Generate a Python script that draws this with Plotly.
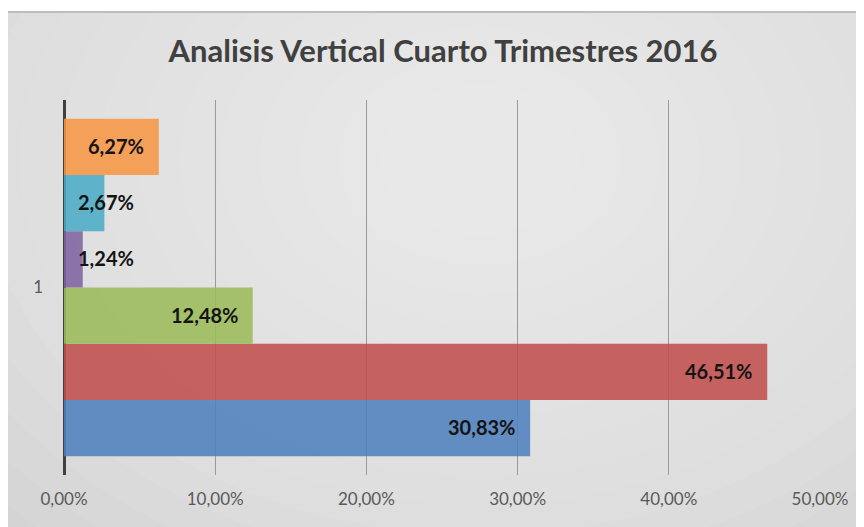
import plotly.graph_objects as go

categories = ["1"]
series_names = ["Serie 1", "Serie 2", "Serie 3", "Serie 4", "Serie 5", "Serie 6"]
series_values = [0.3083, 0.4651, 0.1248, 0.0124, 0.0267, 0.0627]
series_colors = ["#4F81BD", "#C0504D", "#9BBB59", "#8064A2", "#4BACC6", "#F79646"]
tick_values = [0, 0.1, 0.2, 0.3, 0.4, 0.5]

FONT = "Lato"
W, H = 864, 527
OFF = 8  # page body margin offset
# plot area in screen pixels
SX0, SX1, SY0, SY1 = 64, 820, 100, 475
L, R = SX0 - OFF, W - (SX1 - OFF)
T, B = SY0 - OFF, H - (SY1 - OFF)
PW, PH = W - L - R, H - T - B

fig = go.Figure()
for name, val, col in zip(series_names, series_values, series_colors):
    fig.add_trace(go.Bar(
        y=categories, x=[val], name=name, orientation="h",
        marker=dict(color=col, line=dict(width=0)), opacity=0.88,
        hoverinfo="skip",
    ))

# data labels (inside end, clamped near axis for short bars)
n = len(series_values)
for i, val in enumerate(series_values):
    label = f"{val*100:.2f}%".replace(".", ",")
    offset = (i - (n - 1) / 2) / n * 0.9
    if val >= 0.05:
        fig.add_annotation(x=val, y=offset, yref="y", xref="x", text=f"<b>{label}</b>",
                           xanchor="right", xshift=-13, yshift=1, showarrow=False,
                           font=dict(family=FONT, size=20, color="#141414"))
    else:
        fig.add_annotation(x=0, y=offset, yref="y", xref="x", text=f"<b>{label}</b>",
                           xanchor="left", xshift=12, yshift=1, showarrow=False,
                           font=dict(family=FONT, size=20, color="#141414"))

def px_x(p):  # screen px -> paper
    return (p - SX0) / PW

def px_y(p):
    return (SY1 - p) / PH

shapes = [dict(type="rect", xref="paper", yref="paper", x0=px_x(5), x1=px_x(880),
               y0=px_y(540), y1=px_y(11), fillcolor="#d4d4d4", line=dict(width=0), layer="below")]
# soft radial light in the middle
cx, cy = 480, 160
for r in range(660, 60, -40):
    shapes.append(dict(type="circle", xref="paper", yref="paper",
                       x0=px_x(cx - r), x1=px_x(cx + r),
                       y0=px_y(cy + r * 0.75), y1=px_y(cy - r * 0.75),
                       fillcolor="white", opacity=0.06, line=dict(width=0), layer="below"))
# white strips outside the chart area (cover circle overflow)
shapes.append(dict(type="rect", xref="paper", yref="paper", x0=px_x(0), x1=px_x(880),
                   y0=px_y(11), y1=px_y(-10), fillcolor="white", line=dict(width=0), layer="below"))
shapes.append(dict(type="rect", xref="paper", yref="paper", x0=px_x(-10), x1=px_x(5),
                   y0=px_y(540), y1=px_y(-10), fillcolor="white", line=dict(width=0), layer="below"))
# top border line of chart area
shapes.append(dict(type="line", xref="paper", yref="paper", x0=px_x(5), x1=px_x(880),
                   y0=px_y(12), y1=px_y(12), line=dict(color="#bdbdbd", width=2), layer="below"))

fig.update_layout(
    width=W, height=H,
    margin=dict(l=L, r=R, t=T, b=B, autoexpand=False),
    paper_bgcolor="white", plot_bgcolor="rgba(0,0,0,0)",
    separators=",.",
    barmode="group", bargap=0.1, bargroupgap=0,
    showlegend=False,
    title=dict(text="<b>Analisis Vertical Cuarto Trimestres 2016</b>", x=(443 - OFF) / W, xanchor="center",
               y=1 - (51 - OFF) / H, yanchor="middle",
               font=dict(family=FONT, size=31, color="#404040")),
    xaxis=dict(range=[0, 0.5], tickvals=tick_values, tickformat=".2%",
               showgrid=True, gridcolor="#9a9a9a", gridwidth=1,
               zeroline=True, zerolinecolor="#404040", zerolinewidth=3,
               showline=False, ticks="", ticklabelstandoff=12, automargin=False,
               tickfont=dict(family=FONT, size=17, color="#595959")),
    yaxis=dict(showgrid=False, zeroline=False, showline=False, ticks="",
               ticklabelstandoff=20, automargin=False,
               tickfont=dict(family=FONT, size=17, color="#595959")),
    shapes=shapes,
)

fig.write_html("out.html")
